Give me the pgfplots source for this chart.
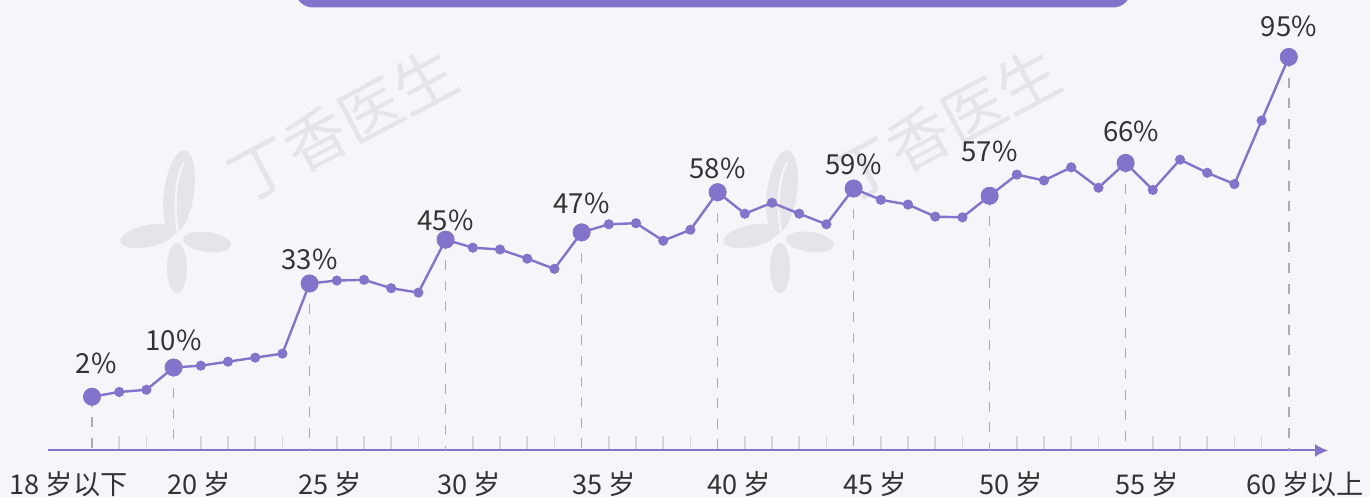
\documentclass[border=0pt]{standalone}
\usepackage{pgfplots}
\pgfplotsset{compat=1.18}
\usepackage{pgfplotstable}
\usepackage{fontspec}
\setmainfont{Noto Sans CJK SC}
\usetikzlibrary{arrows.meta}
\definecolor{lp}{HTML}{8473CB}
\definecolor{bg}{HTML}{F6F5FA}
\definecolor{tc}{HTML}{333333}
\definecolor{wm}{HTML}{E6E4EB}
\definecolor{dg}{HTML}{ABABB0}
\definecolor{tg}{HTML}{D6D5DC}

\pgfplotstableread{
x y
0 2
1 3.3
2 3.9
3 10
4 10.5
5 11.6
6 12.7
7 13.8
8 33
9 33.8
10 34.0
11 31.7
12 30.5
13 45
14 42.8
15 42.3
16 39.8
17 37.0
18 47
19 49.2
20 49.5
21 44.7
22 47.7
23 58
24 52.1
25 55.1
26 52.1
27 49.2
28 59
29 55.9
30 54.6
31 51.3
32 51.1
33 57
34 62.8
35 61.2
36 64.8
37 59.2
38 66
39 58.6
40 66.9
41 63.3
42 60.2
43 77.6
44 95
}\series

\pgfplotstableread{
x y e
0 2 14.72
3 10 22.72
8 33 45.72
13 45 57.72
18 47 59.72
23 58 70.72
28 59 71.72
33 57 69.72
38 66 78.72
44 95 107.72
}\keypts

\begin{document}
\begin{tikzpicture}
% canvas: 1px = 0.5pt
\clip (0,0) rectangle (685pt,248.5pt);
\fill[bg] (0,0) rectangle (685pt,248.5pt);
\begin{scope}[x=0.5pt,y=-0.5pt,yshift=248.5pt]
  % banner
  \fill[lp,rounded corners=9pt] (295,-30) rectangle (1131,7.5);
  % watermark logos
  \foreach \dx in {0,603}{
    \begin{scope}[xshift=\dx*0.5pt]
      \fill[wm] (179,192) ellipse [x radius=15, y radius=42, rotate=-8];
      \fill[wm] (148,236) ellipse [x radius=28, y radius=11, rotate=12];
      \fill[wm] (207,242) ellipse [x radius=24, y radius=10, rotate=-8];
      \fill[wm] (177,268) ellipse [x radius=10, y radius=25];
      \draw[bg,line width=1pt] (178,232) .. controls (173,205) and (176,178) .. (184,162);
    \end{scope}
  }
  \node[text=wm,rotate=28,font=\fontsize{31}{31}\selectfont] at (343,125) {丁香医生};
  \node[text=wm,rotate=28,font=\fontsize{31}{31}\selectfont] at (946,125) {丁香医生};
\end{scope}
\begin{axis}[
  scale only axis,
  width=640pt, height=225.25pt,
  at={(24pt,23.25pt)}, anchor=south west,
  xmin=-1.6176, xmax=45.44,
  ymin=-12.72, ymax=110.6,
  clip=false,
  axis x line=bottom, axis y line=none,
  x axis line style={-{Latex[length=6.5pt,width=6.5pt]}, color=lp, line width=1pt},
  xtick={1,2,4,5,6,7,9,10,11,12,14,15,16,17,19,20,21,22,24,25,26,27,29,30,31,32,34,35,36,37,39,40,41,42,43},
  xticklabels={},
  ytick=\empty,
  tick align=inside,
  major tick length=7.3pt,
  x tick style={color=tg, line width=0.8pt},
]
\addplot[only marks, mark=none, forget plot,
  error bars/.cd, y dir=minus, y explicit,
  error mark=none,
  error bar style={draw=dg, line width=0.8pt, dash pattern=on 5pt off 5.3pt}]
  table[x=x, y=y, y error minus=e] {\keypts};
\addplot[color=lp, line width=1.2pt, mark=*, mark size=1.9pt,
  mark options={fill=lp, draw=lp, solid}] table[x=x,y=y] {\series};
\addplot[only marks, mark=*, mark size=4.3pt, mark options={fill=lp, draw=lp}]
  table[x=x,y=y] {\keypts};

\begin{scope}[every node/.style={anchor=base, text=tc, font=\fontsize{13.8}{16}\selectfont, inner sep=0pt}]
\node at (axis cs:0.15,8.40) {2\%};
\node at (axis cs:3,14.77) {10\%};
\node at (axis cs:8,36.93) {33\%};
\node at (axis cs:13,47.59) {45\%};
\node at (axis cs:18,52.16) {47\%};
\node at (axis cs:23,61.82) {58\%};
\node at (axis cs:28,62.91) {59\%};
\node at (axis cs:33,66.47) {57\%};
\node at (axis cs:38.2,71.75) {66\%};
\node at (axis cs:44,100.66) {95\%};
\end{scope}
\begin{scope}[every node/.style={anchor=base, text=tc, font=\fontsize{13.6}{16}\selectfont, inner sep=0pt}]
\node at (axis cs:-0.86,-24.8) {18 岁以下};
\node at (axis cs:3.93,-24.8) {20 岁};
\node at (axis cs:8.75,-24.8) {25 岁};
\node at (axis cs:13.86,-24.8) {30 岁};
\node at (axis cs:18.82,-24.8) {35 岁};
\node at (axis cs:23.8,-24.8) {40 岁};
\node at (axis cs:28.8,-24.8) {45 岁};
\node at (axis cs:33.8,-24.8) {50 岁};
\node at (axis cs:38.8,-24.8) {55 岁};
\node at (axis cs:44.6,-24.8) {60 岁以上};
\end{scope}
\end{axis}
\end{tikzpicture}
\end{document}
